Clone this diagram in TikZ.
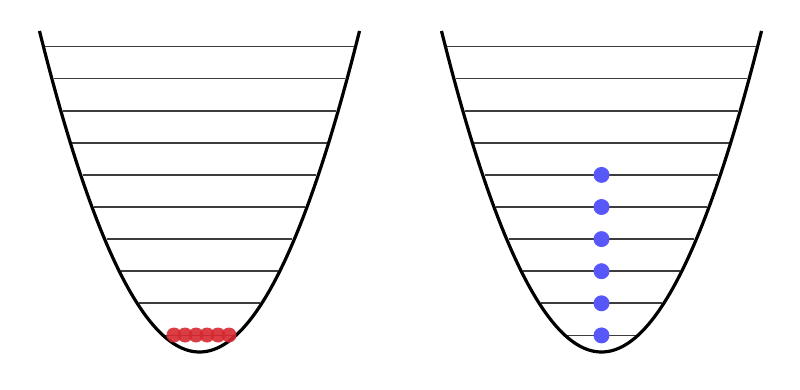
\documentclass[tikz,border=0pt]{standalone}
\definecolor{dotred}{RGB}{214,40,48}
\definecolor{dotblue}{RGB}{88,88,250}
\definecolor{levelgray}{RGB}{60,60,60}
\begin{document}
\begin{tikzpicture}[x=1pt,y=-1pt,
  well/.style={line width=3.2pt,black},
  level/.style={line width=1.8pt,levelgray},
  reddot/.style={circle,fill=dotred,fill opacity=0.9,inner sep=0pt,minimum size=15pt},
  bluedot/.style={circle,fill=dotblue,inner sep=0pt,minimum size=16pt}]
\useasboundingbox (0,0) rectangle (800,390);
% energy levels
\foreach \cx in {199.5,601.5}{
  \foreach \i in {0,...,9}{
    \pgfmathsetmacro\yy{46.5+32.1*\i}
    \pgfmathsetmacro\w{8.93*sqrt(352-\yy)-2}
    \draw[level] ({\cx-\w},\yy) -- ({\cx+\w},\yy);
  }
  \draw[well] plot[domain=-160:160,samples=120,smooth] ({\cx+\x},{352-(0.11198*\x)*(0.11198*\x)});
}
% left: all particles in ground state
\foreach \k/\xx in {1/174,2/185,3/196,4/207,5/218,6/229}
  \node[reddot] (r\k) at (\xx,335) {};
% right: one particle per level
\foreach \k in {1,...,6}{
  \pgfmathsetmacro\yy{46.5+32.1*(10-\k)}
  \node[bluedot] (b\k) at (601.5,\yy) {};
}
\end{tikzpicture}
\end{document}
